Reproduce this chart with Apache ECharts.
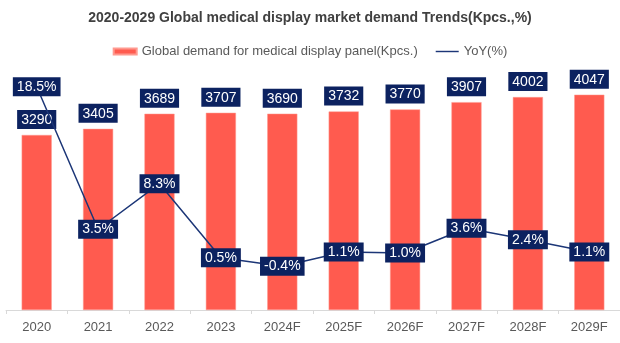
<!DOCTYPE html>
<html>
<head>
<meta charset="utf-8">
<script src="https://cdn.jsdelivr.net/npm/echarts@6/dist/echarts.min.js"></script>
<style>html,body{margin:0;padding:0;background:#fff;}#c{width:620px;height:343px;}</style>
</head>
<body>
<div id="c"></div>
<script>
const categories = ['2020','2021','2022','2023','2024F','2025F','2026F','2027F','2028F','2029F'];
const demand = [3290,3405,3689,3707,3690,3732,3770,3907,4002,4047];
const yoy = [18.5,3.5,8.3,0.5,-0.4,1.1,1.0,3.6,2.4,1.1];

const navy = '#0c2260';
const chart = echarts.init(document.getElementById('c'));
chart.setOption({
  animation: false,
  title: {
    text: '2020-2029 Global medical display market demand Trends(Kpcs.,%)',
    left: 'center', top: 6,
    textStyle: {fontFamily: 'Liberation Sans', fontSize: 14, fontWeight: 'bold', color: '#404040'}
  },
  legend: {
    top: 40, left: 'center', itemGap: 18, itemWidth: 23, itemHeight: 6,
    textStyle: {fontFamily: 'Liberation Sans', fontSize: 13, color: '#595959'},
    data: [
      {name: 'Global demand for medical display panel(Kpcs.)', icon: 'rect'},
      {name: 'YoY(%)', icon: 'path://M0,0 L24,0 L24,1.5 L0,1.5 Z'}
    ]
  },
  grid: {left: 6, right: 0, top: 44, bottom: 33},
  xAxis: {
    type: 'category', data: categories, boundaryGap: true,
    axisLine: {lineStyle: {color: '#d9d9d9'}},
    axisTick: {show: true, length: 4, lineStyle: {color: '#d9d9d9'}},
    axisLabel: {fontFamily: 'Liberation Sans', fontSize: 13, color: '#595959', margin: 11}
  },
  yAxis: [
    {type: 'value', min: 0, max: 5000, show: false, splitLine: {show: false}},
    {type: 'value', min: -5, max: 23, show: false, splitLine: {show: false}}
  ],
  series: [
    {
      name: 'Global demand for medical display panel(Kpcs.)', type: 'bar', data: demand,
      barWidth: '49%',
      itemStyle: {color: '#ff5b4f', borderColor: '#ff9a90', borderWidth: 0.5},
      label: {
        show: true, position: 'top', distance: 6,
        fontFamily: 'Liberation Sans', fontSize: 14, color: '#fff',
        backgroundColor: navy, padding: [3, 4, 2, 4]
      }
    },
    {
      name: 'YoY(%)', type: 'line', yAxisIndex: 1, data: yoy,
      symbol: 'circle', symbolSize: 1, showSymbol: true,
      lineStyle: {color: '#1c3677', width: 1.5}, itemStyle: {color: '#1c3677'},
      label: {
        show: true, position: 'inside',
        formatter: p => p.value.toFixed(1) + '%',
        fontFamily: 'Liberation Sans', fontSize: 14, color: '#fff',
        backgroundColor: navy, padding: [3, 4, 2, 4]
      },
      z: 5
    }
  ]
});
</script>
</body>
</html>
